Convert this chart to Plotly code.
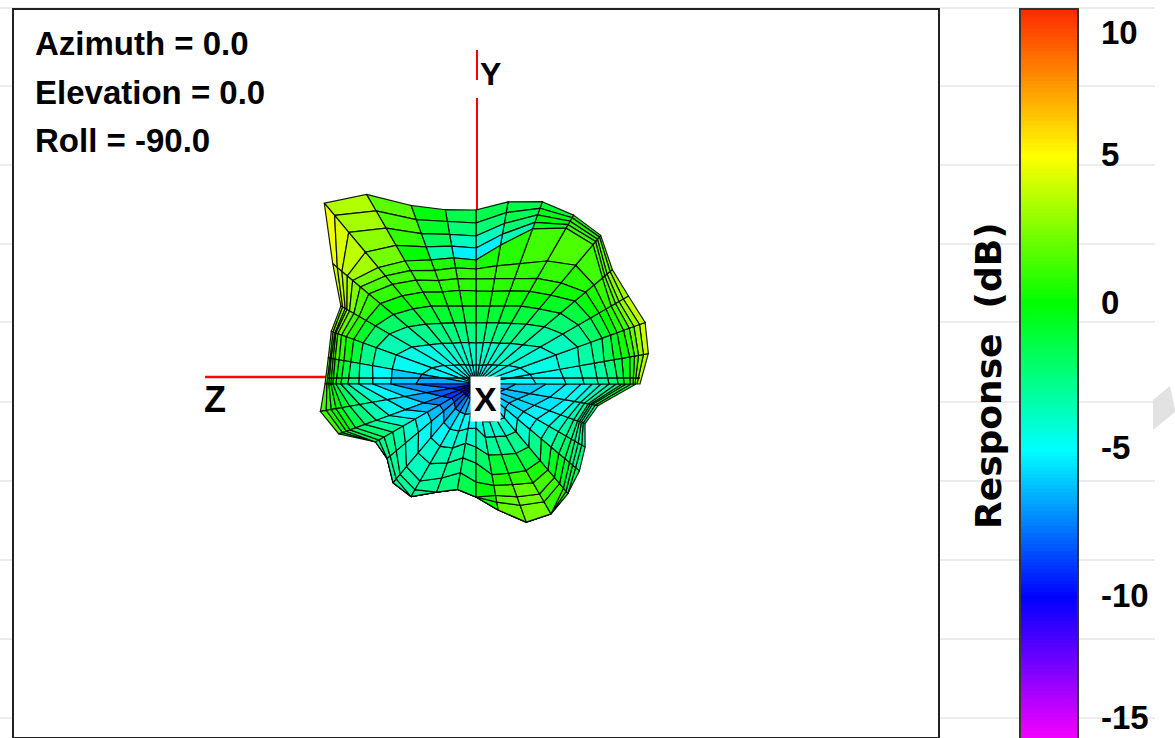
import numpy as np
import plotly.graph_objects as go
from plotly.colors import sample_colorscale

W, H = 1175, 738
OX, OY = 476, 384

PHI_DEG = list(range(0, 370, 10))
RHO = [
 [60,90,108,122,133,142,148,154,157,159,161,164],
 [55,85,105,120,130,140,148,156,161,165,170,175],
 [47,85,108,122,134,143,150,157,163,168,174,180],
 [37,74,100,118,132,142,150,156,161,165,170,176],
 [29,61,89,110,129,143,154,165,168,171,175,178],
 [25,53,78,98,116,132,155,182,186,189,192,194],
 [22,47,70,90,107,122,142,180,184,188,192,195],
 [20,44,65,83,99,112,128,165,172,180,187,194],
 [19,42,62,79,94,107,120,141,152,163,174,185],
 [19,41,61,78,93,105,115,124,136,148,161,174],
 [19,42,62,79,95,107,118,128,140,152,165,177],
 [20,44,65,83,98,110,121,132,146,160,175,190],
 [22,47,70,90,106,120,131,142,160,180,200,219],
 [25,53,78,98,115,130,141,152,172,198,220,236],
 [29,61,89,108,125,140,151,161,168,175,181,187],
 [37,74,100,116,127,135,141,146,149,151,154,156],
 [47,85,106,120,130,138,143,147,149,150,152,154],
 [55,85,105,118,127,134,139,143,145,147,148,150],
 [60,85,103,117,128,135,140,143,145,147,149,151],
 [25,50,72,90,105,118,128,136,142,147,152,158],
 [18,36,55,75,92,106,118,128,134,138,142,146],
 [15,28,42,56,70,84,96,106,112,116,116,116],
 [15,28,42,58,75,92,104,112,116,116,116,116],
 [15,32,50,70,90,108,118,124,129,129,129,129],
 [15,32,52,72,92,112,122,130,130,130,130,130],
 [16,32,50,68,84,100,115,115,115,115,115,115],
 [16,30,45,60,75,90,107,107,107,107,107,107],
 [14,26,44,63,79,98,113,113,113,113,113,113],
 [20,38,54,72,92,103,113,120,128,128,128,128],
 [22,40,56,75,95,107,120,129,147,147,147,147],
 [22,42,60,80,100,114,127,136,150,150,150,150],
 [22,44,62,82,100,112,122,130,136,140,143,143],
 [20,38,54,70,85,98,108,116,122,126,130,135],
 [20,38,55,70,84,95,104,110,114,118,122,126],
 [24,44,62,78,90,98,104,108,110,112,114,116],
 [30,55,75,90,100,106,110,114,116,118,121,124],
 [40,70,90,105,116,125,133,140,146,150,155,160],
]
RESPONSE_DB = [
 [-5,-5,-4.5,-4,-3.5,-3,-2,-1,0,1,2,3],
 [-5,-4.5,-4,-3.5,-3,-2,-1,0,1,2,3,4],
 [-5,-4.5,-4,-3,-2.5,-1.5,-0.5,0.5,1,2,3,4],
 [-4.5,-4,-3.5,-2.5,-1.5,-0.5,0.5,1,1.5,2.5,3,3.5],
 [-4.5,-4,-3,-2,-1,0,0.5,1,1.5,2,2.5,2.5],
 [-4.5,-4,-2.5,-1.5,-0.5,0.5,1,1.5,1.5,1.5,1.5,1],
 [-5,-4,-2.5,-1,0.3,0.8,1,1.5,1,0.5,0,-0.5],
 [-5,-4,-2.5,-1,0.3,0.8,1,1,-2,-1,-1,-1.5],
 [-5,-4,-2.5,-1,0.3,0.8,1,0.5,-5,-3.5,-2,-1.5],
 [-5,-4,-2.5,-1,0.3,0.8,1,0.5,-5.5,-4,-2.5,-1.5],
 [-5,-4,-2.5,-1,0.3,0.8,1,0.5,-5,-3.5,-2,-1.5],
 [-5,-4,-2.5,-1,0.3,0.8,1,0.5,-1.5,0,0.5,1],
 [-5,-4,-2.5,-1,0.3,0.8,1,1.2,1.5,2,2.5,2.5],
 [-5,-4,-2.5,-1,0.5,1,1.5,2,3,3.5,4,4.5],
 [-5,-4.5,-3,-2,-0.5,1,1.5,2.5,3.5,4,4.5,5],
 [-5,-4.5,-3.5,-2,-0.5,1,1.5,2.5,3,3,3,3],
 [-5,-4.5,-3.5,-2.5,-1,0.5,1,1.5,2,2,2,2],
 [-5.5,-5,-4,-3,-1.5,0,1,1.5,1.5,1.5,1,1],
 [-8,-7,-6,-5,-4,-3,-2,-1,0,0.5,1,1],
 [-9.5,-7.5,-6,-5,-4,-3,-2,-1,0,0.5,1,1.5],
 [-10,-9,-7.5,-6,-5,-4,-3,-2,-1,-0.5,0,1],
 [-10.5,-9,-7.5,-6.5,-5.5,-4,-3,-2.5,-2.5,-2,-2,-2],
 [-10,-8.5,-7,-6,-5,-4,-3.5,-3,-3,-3,-3,-3],
 [-10,-8,-6.5,-5.5,-4.5,-4,-3.5,-3,-3,-3,-3,-3],
 [-9,-7,-5.5,-4.5,-3.5,-3.5,-3,-3,-3,-3,-3,-3],
 [-8,-6.5,-5,-4,-3.5,-3,-3,-3,-3,-3,-3,-3],
 [-7.5,-6,-5,-4,-3,-2.5,-2,-2,-2,-2,-2,-2],
 [-7,-6,-5,-4,-3,-2,-1,-1,-1,-1,-1,-1],
 [-6,-5,-4,-3,-1,0,1,1.5,1.5,1.5,1.5,1.5],
 [-6,-5,-4,-3,-1,1,2,2.5,2.5,2.5,2.5,2.5],
 [-6,-5,-4,-2.5,-1,1,2,2,2,2,2,2],
 [-6,-5,-4,-3,-1.5,0,0.5,0.5,0,-0.5,-1,-1],
 [-7,-6,-5.5,-5,-4,-3,-2,-1.5,-1.5,-2,-2,-2],
 [-7,-6,-5.5,-5,-4.5,-4,-3,-2.5,-2.5,-3,-3,-3],
 [-7,-6.5,-6,-5.5,-5,-4,-3.5,-3,-3,-3,-3,-3],
 [-6.5,-6,-5.5,-5.5,-5,-4.5,-4,-3.5,-3,-3,-2.5,-2],
 [-6.5,-6,-5.5,-5,-4.5,-4,-3.5,-3,-2,-1,0,1],
]
CBAR_TICKS = ["10", "5", "0", "-5", "-10", "-15"]
CBAR_LABEL_Y = [32, 155, 302, 447, 595, 717]
TITLE_LINES = ["Azimuth = 0.0", "Elevation = 0.0", "Roll = -90.0"]
DB_MIN, DB_MAX = -15, 10
COLORSCALE = [[0, "#ff00ff"], [0.2, "#0000ff"], [0.4, "#00ffff"],
              [0.6, "#00ff00"], [0.8, "#ffff00"], [1, "#ff2800"]]


def px(x):
    return x / W


def py(y):
    return 1 - y / H


fig = go.Figure()

fig.add_trace(go.Scatter(x=[1, 1, None, 1, 1], y=[OY - 50, OY - 80, None, OY - 98, OY - 215],
                         mode="lines", line=dict(color="#ff0000", width=2), hoverinfo="skip"))
fig.add_trace(go.Scatter(x=[205 - OX, 330 - OX], y=[OY - 377, OY - 377],
                         mode="lines", line=dict(color="#ff0000", width=2.5), hoverinfo="skip"))

phi = np.radians(PHI_DEG)
rho = np.array(RHO, float)
db = np.array(RESPONSE_DB, float)
rho = np.hstack([np.zeros((rho.shape[0], 1)), rho])
px_x = rho * np.cos(phi)[:, None]
px_y = rho * np.sin(phi)[:, None]

# outer rings first, so that the front of the balloon covers the folds behind it
for j in range(rho.shape[1] - 2, -1, -1):
    for i in range(rho.shape[0] - 1):
        xs = [px_x[i, j], px_x[i + 1, j], px_x[i + 1, j + 1], px_x[i, j + 1], px_x[i, j]]
        ys = [px_y[i, j], px_y[i + 1, j], px_y[i + 1, j + 1], px_y[i, j + 1], px_y[i, j]]
        v = (db[i, j] + db[i + 1, j]) / 2
        col = sample_colorscale(COLORSCALE, (v - DB_MIN) / (DB_MAX - DB_MIN))[0]
        fig.add_trace(go.Scatter(x=xs, y=ys, mode="lines", fill="toself", fillcolor=col,
                                 line=dict(color="rgba(0,0,0,0.9)", width=1.2), hoverinfo="skip"))

fig.add_trace(go.Scatter(x=[328 - OX, 640 - OX], y=[OY - 378, OY - 378], mode="lines",
                         line=dict(color="#000000", width=1.5), hoverinfo="skip"))

levels = np.arange(DB_MIN, DB_MAX + 0.125, 0.125)
fig.add_trace(go.Heatmap(x=[0, 1], y=levels, z=[[v, v] for v in levels], colorscale=COLORSCALE,
                         zmin=DB_MIN, zmax=DB_MAX, showscale=False, xaxis="x2", yaxis="y2",
                         hoverinfo="skip"))

shapes = []
for gy in [8, 86, 165, 244, 322, 402, 481, 560, 639, 718]:
    shapes.append(dict(type="line", xref="paper", yref="paper", x0=0, x1=px(1155), y0=py(gy), y1=py(gy),
                       line=dict(color="#d9d9d9", width=1), layer="below"))
shapes.append(dict(type="path", xref="paper", yref="paper", layer="below", line=dict(width=0),
                   fillcolor="#e2e2e2",
                   path=f"M {px(1153)} {py(400)} L {px(1170)} {py(386)} L {px(1175)} {py(409)} L {px(1175)} {py(412)} L {px(1153)} {py(430)} Z"))
shapes.append(dict(type="rect", xref="paper", yref="paper", layer="below", x0=px(13), x1=px(939),
                   y0=py(738), y1=py(9), fillcolor="#ffffff", line=dict(color="#222222", width=2)))
shapes.append(dict(type="rect", xref="paper", yref="paper", layer="above", x0=px(1020), x1=px(1078),
                   y0=py(740), y1=py(9), line=dict(color="#333333", width=2)))

FONT = "Liberation Sans, Arial"
ann = []
for t, y in zip(TITLE_LINES, [44, 93, 140]):
    ann.append(dict(x=px(33), y=py(y), text=f"<b>{t}</b>", xref="paper", yref="paper", xanchor="left",
                    yanchor="middle", showarrow=False, font=dict(family=FONT, size=33, color="#000")))
for t, y in zip(CBAR_TICKS, CBAR_LABEL_Y):
    ann.append(dict(x=px(1099), y=py(y), text=f"<b>{t}</b>", xref="paper", yref="paper", xanchor="left",
                    yanchor="middle", showarrow=False, font=dict(family=FONT, size=33, color="#000")))
ann.append(dict(x=px(988), y=py(376), text="<b>Response  (dB)</b>", textangle=-90, xref="paper", yref="paper",
                xanchor="center", yanchor="middle", showarrow=False,
                font=dict(family="DejaVu Sans", size=36, color="#000")))
for t, lx, ly, s in [("Y", 490, 74, 32), ("Z", 215, 399, 36)]:
    ann.append(dict(x=px(lx), y=py(ly), text=f"<b>{t}</b>", xref="paper", yref="paper", showarrow=False,
                    xanchor="center", yanchor="middle", font=dict(family=FONT, size=s, color="#000")))
ann.append(dict(x=px(485), y=py(399), text="<b>X</b>", xref="paper", yref="paper", showarrow=False,
                xanchor="center", yanchor="middle", bgcolor="#ffffff", borderpad=3,
                font=dict(family=FONT, size=34, color="#000")))

fig.update_layout(
    width=W, height=H, margin=dict(l=0, r=0, t=0, b=0), showlegend=False,
    paper_bgcolor="#ffffff", plot_bgcolor="rgba(0,0,0,0)", shapes=shapes, annotations=ann,
    xaxis=dict(domain=[px(13), px(939)], range=[13 - OX, 939 - OX], visible=False),
    yaxis=dict(domain=[0, py(9)], range=[OY - 738, OY - 9], visible=False),
    xaxis2=dict(domain=[px(1020), px(1078)], range=[-0.5, 1.5], visible=False, anchor="y2"),
    yaxis2=dict(domain=[0, py(9)], range=[-14.8, 10], visible=False, anchor="x2"),
)
fig.write_html("out.html", config={"displayModeBar": False},
               post_script="document.body.style.margin='0';")
